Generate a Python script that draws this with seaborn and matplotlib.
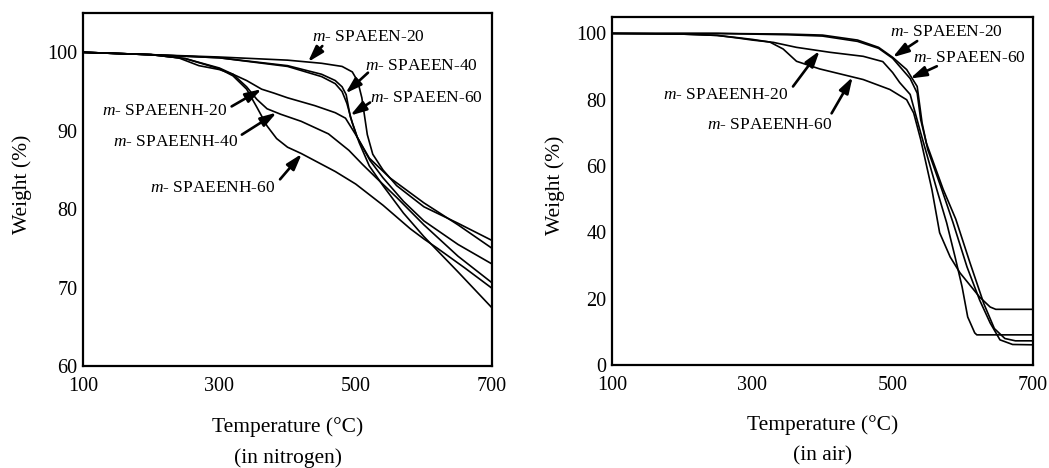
import matplotlib
matplotlib.use("Agg")
import matplotlib.pyplot as plt
import numpy as np
import seaborn as sns

# ---- TGA curves in nitrogen (temperature in C, weight in %) ----
n2_spaeen20_t = [100, 200, 300, 400, 450, 480, 495, 503, 509, 517, 525, 540, 560, 600, 650, 700]
n2_spaeen20_w = [100, 99.7, 99.4, 99.0, 98.6, 98.2, 97.5, 96.3, 94.2, 89.5, 87.0, 85.0, 83.0, 80.3, 78.2, 76.0]
n2_spaeen40_t = [100, 200, 300, 400, 450, 470, 480, 486, 492, 502, 521, 540, 570, 600, 650, 700]
n2_spaeen40_w = [100, 99.7, 99.3, 98.3, 97.2, 96.4, 95.6, 94.6, 91.8, 89.2, 86.2, 84.0, 81.0, 78.5, 75.5, 73.0]
n2_spaeen60_t = [100, 200, 300, 400, 450, 470, 480, 487, 495, 505, 520, 540, 570, 600, 650, 700]
n2_spaeen60_w = [100, 99.7, 99.3, 98.2, 96.9, 96.0, 95.0, 93.5, 91.0, 88.5, 85.5, 83.0, 79.5, 76.5, 72.0, 67.4]
n2_spaeenh20_t = [100, 200, 240, 270, 300, 320, 340, 362, 380, 400, 440, 470, 485, 500, 520, 550, 600, 650, 700]
n2_spaeenh20_w = [100, 99.7, 99.3, 98.3, 97.8, 97.2, 96.4, 95.3, 94.8, 94.2, 93.2, 92.3, 91.6, 89.5, 86.5, 84.0, 80.8, 78.0, 75.0]
n2_spaeenh40_t = [100, 200, 250, 300, 320, 340, 355, 370, 390, 420, 460, 490, 510, 530, 560, 600, 650, 700]
n2_spaeenh40_w = [100, 99.7, 99.2, 98.0, 97.2, 95.6, 94.0, 92.8, 92.1, 91.2, 89.6, 87.5, 85.7, 84.0, 81.5, 78.0, 74.0, 70.6]
n2_spaeenh60_t = [100, 200, 250, 300, 320, 340, 355, 370, 384, 400, 420, 470, 500, 540, 580, 600, 620, 660, 700]
n2_spaeenh60_w = [100, 99.7, 99.2, 97.9, 97.0, 95.3, 93.0, 90.6, 89.0, 87.9, 87.1, 84.8, 83.2, 80.5, 77.5, 76.2, 75.0, 72.5, 69.9]

# ---- TGA curves in air ----
air_spaeen20_t = [100, 250, 300, 350, 400, 450, 480, 500, 520, 535, 542, 550, 570, 586, 606, 624, 639, 653, 671, 700]
air_spaeen20_w = [100, 100, 99.9, 99.8, 99.5, 98.0, 95.8, 92.8, 89.1, 84.0, 73.0, 65.0, 53.0, 43.0, 29.6, 19.6, 12.7, 7.6, 6.2, 6.1]
air_spaeen60_t = [100, 250, 300, 350, 400, 450, 480, 500, 525, 535, 540, 548, 572, 590, 610, 630, 645, 660, 675, 700]
air_spaeen60_w = [100, 100, 99.8, 99.6, 99.2, 97.6, 95.5, 92.5, 86.4, 82.0, 74.0, 67.0, 53.0, 44.0, 31.0, 18.5, 11.0, 8.0, 7.3, 7.3]
air_spaeenh20_t = [100, 200, 250, 280, 300, 330, 363, 411, 458, 486, 500, 510, 525, 540, 563, 577, 589, 599, 607, 617, 620, 700]
air_spaeenh20_w = [100, 99.8, 99.4, 98.6, 98.0, 97.3, 95.8, 94.3, 93.1, 91.5, 88.2, 85.2, 81.6, 70.0, 52.9, 42.9, 32.6, 23.6, 14.5, 9.7, 9.1, 9.1]
air_spaeenh60_t = [100, 200, 250, 280, 300, 325, 344, 363, 396, 458, 496, 520, 530, 540, 556, 567, 582, 596, 624, 639, 647, 700]
air_spaeenh60_w = [100, 99.8, 99.4, 98.7, 98.2, 97.4, 95.3, 91.6, 89.3, 86.1, 83.1, 80.0, 76.0, 68.0, 52.9, 39.9, 32.6, 27.8, 20.5, 17.5, 16.8, 16.8]

n2_series = {
    "SPAEEN-20": (n2_spaeen20_t, n2_spaeen20_w),
    "SPAEEN-40": (n2_spaeen40_t, n2_spaeen40_w),
    "SPAEEN-60": (n2_spaeen60_t, n2_spaeen60_w),
    "SPAEENH-20": (n2_spaeenh20_t, n2_spaeenh20_w),
    "SPAEENH-40": (n2_spaeenh40_t, n2_spaeenh40_w),
    "SPAEENH-60": (n2_spaeenh60_t, n2_spaeenh60_w),
}
air_series = {
    "SPAEEN-20": (air_spaeen20_t, air_spaeen20_w),
    "SPAEEN-60": (air_spaeen60_t, air_spaeen60_w),
    "SPAEENH-20": (air_spaeenh20_t, air_spaeenh20_w),
    "SPAEENH-60": (air_spaeenh60_t, air_spaeenh60_w),
}

# label: (text x, text y, arrow tail x, arrow tail y, temperature the arrow points at)
n2_labels = {
    "SPAEEN-20": (436, 102.0, 451, 100.8, 430),
    "SPAEEN-40": (514, 98.2, 518, 97.4, 485),
    "SPAEEN-60": (521, 94.2, 521, 93.6, 492),
    "SPAEENH-20": (128, 92.5, 318, 93.1, 362),
    "SPAEENH-40": (144, 88.5, 333, 89.5, 384),
    "SPAEENH-60": (198, 82.7, 389, 83.8, 421),
}
air_labels = {
    "SPAEEN-20": (496, 100.4, 535, 97.7, 500),
    "SPAEEN-60": (529, 92.7, 563, 90.1, 525),
    "SPAEENH-20": (173, 81.5, 358, 84.0, 396),
    "SPAEENH-60": (235, 72.3, 413, 75.9, 443),
}

sns.set_theme(style="white")
plt.rcParams["font.family"] = ["Liberation Serif", "DejaVu Serif"]
plt.rcParams["mathtext.fontset"] = "custom"
plt.rcParams["mathtext.rm"] = "Liberation Serif"
plt.rcParams["mathtext.it"] = "Liberation Serif:italic"
plt.rcParams["text.color"] = "black"
plt.rcParams["axes.labelcolor"] = "black"

fig = plt.figure(figsize=(10.49, 4.68), dpi=100)
ax1 = fig.add_axes([0.0791, 0.218, 0.390, 0.754])
ax2 = fig.add_axes([0.5834, 0.220, 0.4013, 0.744])


def draw_panel(ax, series, labels, ylim, yticks, condition, ylab_x):
    for name, (t, w) in series.items():
        sns.lineplot(x=t, y=w, ax=ax, color="black", lw=1.2, estimator=None, sort=False)
    for name, (tx, ty, ax_t, ax_w, tip_t) in labels.items():
        t, w = series[name]
        tip_w = np.interp(tip_t, t, w)
        ax.annotate("", xy=(tip_t, tip_w), xytext=(ax_t, ax_w),
                    arrowprops=dict(arrowstyle="-|>,head_length=0.8,head_width=0.25",
                                    lw=1.9, color="black", shrinkA=0, shrinkB=0))
        ax.text(tx, ty, r"$\it{m}$- " + name, fontsize=12.5, ha="left", va="center")
    ax.set_xlim(100, 700)
    ax.set_ylim(*ylim)
    ax.set_xticks([100, 300, 500, 700])
    ax.set_yticks(yticks)
    ax.tick_params(direction="in", length=5, width=1.3, labelsize=14.5, colors="black")
    ax.tick_params(axis="x", pad=8)
    ax.tick_params(axis="y", pad=4)
    for sp in ax.spines.values():
        sp.set_linewidth(1.6)
        sp.set_color("black")
    ax.set_xlabel("Temperature (°C)", fontsize=15.5)
    ax.xaxis.label.set_va("center")
    ax.xaxis.set_label_coords(0.5, -0.173)
    ax.set_ylabel("Weight (%)", fontsize=15.5)
    ax.yaxis.label.set_va("center")
    ax.yaxis.set_label_coords(ylab_x, 0.515)
    ax.text(0.5, -0.262, condition, transform=ax.transAxes, fontsize=15.5,
            ha="center", va="center")


draw_panel(ax1, n2_series, n2_labels, (60, 105), [60, 70, 80, 90, 100], "(in nitrogen)", -0.149)
draw_panel(ax2, air_series, air_labels, (0, 105), [0, 20, 40, 60, 80, 100], "(in air)", -0.135)

fig.savefig("out.png", dpi=100)
